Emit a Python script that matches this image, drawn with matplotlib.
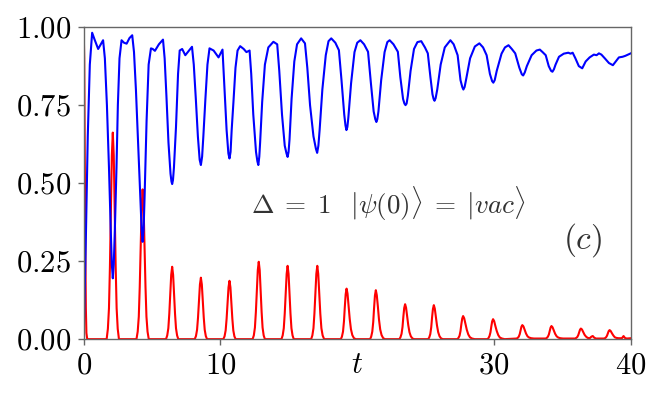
import matplotlib
matplotlib.use('Agg')
import matplotlib.pyplot as plt

# populations vs time (one line per peak)
red_t = [0.0, 0.04, 0.08, 0.12, 0.16, 0.2, 0.26,
         1.68, 1.77, 1.85, 1.92, 1.99, 2.06, 2.13, 2.20, 2.27, 2.34, 2.41, 2.49, 2.58,
         3.86, 3.95, 4.03, 4.10, 4.17, 4.24, 4.31, 4.38, 4.45, 4.52, 4.59, 4.67, 4.76,
         6.02, 6.11, 6.19, 6.26, 6.33, 6.40, 6.47, 6.54, 6.61, 6.68, 6.75, 6.83, 6.92,
         8.12, 8.21, 8.29, 8.36, 8.43, 8.50, 8.57, 8.64, 8.71, 8.78, 8.85, 8.93, 9.02,
         10.21, 10.30, 10.38, 10.45, 10.52, 10.59, 10.66, 10.73, 10.80, 10.87, 10.94, 11.02, 11.11,
         12.35, 12.44, 12.52, 12.59, 12.66, 12.73, 12.80, 12.87, 12.94, 13.01, 13.08, 13.16, 13.25,
         14.46, 14.55, 14.63, 14.70, 14.77, 14.84, 14.91, 14.98, 15.05, 15.12, 15.19, 15.27, 15.36,
         16.63, 16.72, 16.80, 16.87, 16.94, 17.01, 17.08, 17.15, 17.22, 17.30, 17.38, 17.47, 17.58,
         18.80, 18.88, 18.96, 19.03, 19.09, 19.155, 19.22, 19.29, 19.37, 19.45, 19.54, 19.64, 19.76, 19.90,
         20.94, 21.02, 21.10, 21.17, 21.23, 21.295, 21.36, 21.43, 21.51, 21.59, 21.68, 21.78, 21.90, 22.04,
         23.08, 23.16, 23.24, 23.31, 23.37, 23.435, 23.50, 23.57, 23.65, 23.73, 23.82, 23.92, 24.04, 24.18,
         25.18, 25.26, 25.34, 25.41, 25.47, 25.535, 25.60, 25.67, 25.75, 25.83, 25.92, 26.02, 26.14, 26.28,
         27.32, 27.40, 27.48, 27.55, 27.61, 27.675, 27.74, 27.82, 27.91, 28.01, 28.12, 28.24, 28.39, 28.59,
         29.51, 29.59, 29.67, 29.74, 29.80, 29.865, 29.93, 30.01, 30.10, 30.20, 30.31, 30.43, 30.58, 30.78,
         31.65, 31.73, 31.81, 31.88, 31.94, 32.005, 32.07, 32.15, 32.24, 32.34, 32.45, 32.57, 32.72, 32.92,
         33.78, 33.86, 33.94, 34.01, 34.07, 34.135, 34.20, 34.28, 34.37, 34.47, 34.58, 34.70, 34.85, 35.05,
         35.93, 36.01, 36.09, 36.16, 36.22, 36.285, 36.35, 36.43, 36.52, 36.62, 36.73, 36.85, 37.00,
         37.12, 37.22, 37.32, 37.45,
         38.03, 38.11, 38.19, 38.26, 38.32, 38.385, 38.45, 38.53, 38.62, 38.72, 38.83, 38.95, 39.10,
         39.35, 39.47, 39.57, 39.7, 40.0]
red_y = [1.0, 0.9, 0.6, 0.3, 0.1, 0.02, 0.0,
         0.0, 0.033, 0.099, 0.232, 0.417, 0.589, 0.662, 0.589, 0.417, 0.232, 0.099, 0.033, 0.0,
         0.0, 0.024, 0.072, 0.168, 0.302, 0.427, 0.48, 0.427, 0.302, 0.168, 0.072, 0.024, 0.0,
         0.0, 0.012, 0.035, 0.081, 0.146, 0.206, 0.232, 0.206, 0.146, 0.081, 0.035, 0.012, 0.0,
         0.0, 0.010, 0.030, 0.069, 0.124, 0.175, 0.197, 0.175, 0.124, 0.069, 0.030, 0.010, 0.0,
         0.0, 0.009, 0.028, 0.065, 0.118, 0.166, 0.187, 0.166, 0.118, 0.065, 0.028, 0.009, 0.0,
         0.0, 0.012, 0.037, 0.087, 0.156, 0.221, 0.248, 0.221, 0.156, 0.087, 0.037, 0.012, 0.0,
         0.0, 0.012, 0.035, 0.082, 0.148, 0.209, 0.235, 0.209, 0.148, 0.082, 0.035, 0.012, 0.0,
         0.0, 0.012, 0.035, 0.082, 0.148, 0.209, 0.235, 0.209, 0.148, 0.082, 0.035, 0.012, 0.0,
         0.0, 0.008, 0.024, 0.057, 0.102, 0.144, 0.162, 0.146, 0.107, 0.065, 0.032, 0.013, 0.003, 0.0,
         0.0, 0.008, 0.024, 0.055, 0.099, 0.140, 0.157, 0.141, 0.104, 0.063, 0.031, 0.013, 0.003, 0.0,
         0.0, 0.006, 0.017, 0.039, 0.071, 0.100, 0.112, 0.101, 0.074, 0.045, 0.022, 0.009, 0.002, 0.0,
         0.0, 0.005, 0.016, 0.038, 0.069, 0.097, 0.109, 0.098, 0.072, 0.044, 0.022, 0.009, 0.002, 0.0,
         0.0, 0.004, 0.011, 0.026, 0.047, 0.066, 0.074, 0.067, 0.049, 0.030, 0.015, 0.006, 0.002, 0.0,
         0.0, 0.003, 0.010, 0.022, 0.040, 0.057, 0.064, 0.058, 0.042, 0.026, 0.013, 0.005, 0.002, 0.0,
         0.002, 0.004, 0.008, 0.016, 0.028, 0.040, 0.045, 0.041, 0.030, 0.018, 0.009, 0.005, 0.003, 0.002,
         0.002, 0.004, 0.008, 0.015, 0.026, 0.037, 0.042, 0.038, 0.028, 0.017, 0.009, 0.005, 0.003, 0.002,
         0.002, 0.004, 0.007, 0.013, 0.021, 0.030, 0.034, 0.031, 0.023, 0.014, 0.008, 0.004, 0.003,
         0.008, 0.01, 0.005, 0.002,
         0.002, 0.003, 0.006, 0.011, 0.018, 0.026, 0.029, 0.026, 0.019, 0.012, 0.006, 0.004, 0.003,
         0.003, 0.01, 0.004, 0.002, 0.003]

blue_t = [0.0, 0.15, 0.3, 0.45, 0.62, 0.8, 1.06, 1.25, 1.42, 1.55, 1.7, 1.85, 1.98, 2.06,
          2.13, 2.2, 2.28, 2.4, 2.5, 2.62, 2.77, 2.95, 3.14, 3.35, 3.55, 3.68, 3.82, 3.98, 4.15, 4.24,
          4.31, 4.38, 4.45, 4.6, 4.75, 4.92, 5.05, 5.21, 5.5, 5.8, 5.92, 6.05, 6.2, 6.35, 6.42,
          6.47, 6.53, 6.6, 6.75, 6.9, 7.02, 7.2, 7.43, 7.7, 7.92, 8.05, 8.2, 8.35, 8.48,
          8.57, 8.66, 8.75, 8.9, 9.05, 9.2, 9.5, 9.86, 10.15, 10.3, 10.45, 10.58,
          10.66, 10.74, 10.82, 10.95, 11.1, 11.25, 11.44, 11.7, 11.9, 12.13, 12.25, 12.4, 12.6, 12.7,
          12.77, 12.84, 12.9, 13.05, 13.25, 13.5, 13.87, 14.15, 14.3, 14.5, 14.7, 14.83,
          14.91, 14.98, 15.05, 15.2, 15.4, 15.6, 15.9, 16.18, 16.35, 16.55, 16.8, 16.98,
          17.07, 17.16, 17.25, 17.45, 17.7, 17.9, 18.1, 18.4, 18.66, 18.85, 19.05, 19.14,
          19.21, 19.28, 19.35, 19.55, 19.8, 20.0, 20.23, 20.5, 20.79, 21.0, 21.2, 21.32,
          21.4, 21.47, 21.55, 21.75, 22.0, 22.2, 22.37, 22.65, 22.97, 23.15, 23.35, 23.45,
          23.53, 23.61, 23.7, 23.9, 24.15, 24.4, 24.68, 24.95, 25.16, 25.35, 25.5, 25.58,
          25.65, 25.73, 25.85, 26.1, 26.4, 26.81, 27.05, 27.34, 27.55, 27.68,
          27.76, 27.85, 27.95, 28.25, 28.6, 28.93, 29.2, 29.46, 29.7, 29.86,
          29.95, 30.05, 30.2, 30.55, 30.8, 31.06, 31.3, 31.55, 31.85, 32.03,
          32.13, 32.25, 32.4, 32.75, 33.1, 33.35, 33.55, 33.78, 34.0, 34.17,
          34.27, 34.38, 34.5, 34.75, 35.1, 35.43, 35.6, 35.75, 35.95, 36.2,
          36.45, 36.7, 36.99, 37.3, 37.5, 37.67, 37.85, 38.1, 38.4,
          38.69, 38.9, 39.13, 39.4, 39.6, 39.8, 40.0]
blue_y = [0.0, 0.3, 0.65, 0.88, 0.982, 0.96, 0.93, 0.945, 0.958, 0.9, 0.75, 0.55, 0.35, 0.24,
          0.195, 0.24, 0.35, 0.55, 0.75, 0.9, 0.958, 0.95, 0.947, 0.965, 0.974, 0.92, 0.8, 0.63, 0.45, 0.35,
          0.312, 0.35, 0.45, 0.7, 0.88, 0.932, 0.93, 0.924, 0.945, 0.96, 0.9, 0.78, 0.63, 0.53, 0.505,
          0.497, 0.51, 0.55, 0.68, 0.85, 0.925, 0.93, 0.91, 0.925, 0.937, 0.88, 0.77, 0.65, 0.575,
          0.558, 0.585, 0.65, 0.77, 0.88, 0.932, 0.925, 0.903, 0.928, 0.8, 0.67, 0.595,
          0.579, 0.6, 0.67, 0.76, 0.87, 0.925, 0.939, 0.93, 0.92, 0.925, 0.85, 0.72, 0.6, 0.57,
          0.558, 0.585, 0.63, 0.76, 0.88, 0.935, 0.953, 0.945, 0.86, 0.72, 0.62, 0.595,
          0.584, 0.6, 0.64, 0.77, 0.89, 0.945, 0.964, 0.948, 0.87, 0.75, 0.65, 0.61,
          0.597, 0.62, 0.67, 0.8, 0.91, 0.955, 0.964, 0.95, 0.926, 0.83, 0.72, 0.685,
          0.67, 0.68, 0.71, 0.82, 0.92, 0.95, 0.958, 0.945, 0.921, 0.82, 0.73, 0.705,
          0.696, 0.705, 0.73, 0.83, 0.92, 0.952, 0.958, 0.945, 0.921, 0.84, 0.77, 0.755,
          0.75, 0.755, 0.78, 0.86, 0.93, 0.952, 0.955, 0.935, 0.916, 0.84, 0.785, 0.77,
          0.764, 0.772, 0.8, 0.88, 0.935, 0.958, 0.945, 0.91, 0.83, 0.808,
          0.80, 0.808, 0.83, 0.9, 0.938, 0.948, 0.935, 0.91, 0.85, 0.827,
          0.822, 0.83, 0.86, 0.915, 0.935, 0.942, 0.93, 0.916, 0.87, 0.849,
          0.845, 0.855, 0.875, 0.91, 0.925, 0.928, 0.92, 0.91, 0.875, 0.86,
          0.857, 0.865, 0.88, 0.905, 0.915, 0.918, 0.915, 0.918, 0.9, 0.875,
          0.868, 0.89, 0.903, 0.912, 0.91, 0.916, 0.912, 0.9, 0.885,
          0.878, 0.89, 0.903, 0.905, 0.908, 0.912, 0.916]

x_ticks = [0, 10, 30, 40]
y_ticks = [0.0, 0.25, 0.5, 0.75, 1.0]

plt.rcParams['mathtext.fontset'] = 'cm'
plt.rcParams['font.family'] = 'serif'
plt.rcParams['font.serif'] = ['cmr10', 'DejaVu Serif']

fig = plt.figure(figsize=(6.64, 3.99), dpi=100)
ax = fig.add_axes([0.126, 0.150, 0.824, 0.782])

ax.plot(red_t, red_y, color='#ff0000', lw=1.5)
ax.plot(blue_t, blue_y, color='#0000ff', lw=1.5)

ax.set_xlim(0, 40)
ax.set_ylim(0, 1)
ax.set_xticks(x_ticks)
ax.set_xticklabels(['$%d$' % v for v in x_ticks])
ax.set_yticks(y_ticks)
ax.set_yticklabels(['$%.2f$' % v for v in y_ticks])
ax.tick_params(labelsize=22, length=4, width=1, color='0.4', pad=5)
for s in ax.spines.values():
    s.set_color('0.4')
    s.set_linewidth(1)

ax.set_xlabel('$t$', fontsize=22)
ax.xaxis.set_label_coords(0.5, -0.04)

ax.text(22.3, 0.433, r'$\Delta\;=\;1\;\;\;|\psi(0)\rangle\;=\;|vac\rangle$', fontsize=19.5,
        ha='center', va='center', color='0.2')
ax.text(36.5, 0.317, '$(c)$', fontsize=24, ha='center', va='center', color='0.2')

fig.savefig('out.png', dpi=100)
